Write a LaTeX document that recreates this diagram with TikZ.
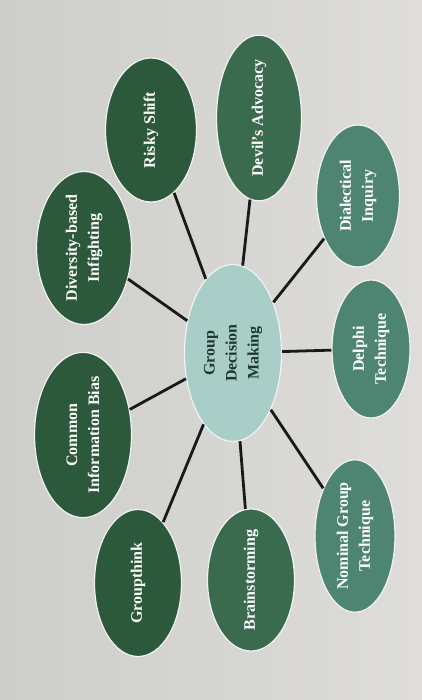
\documentclass[tikz,border=0pt]{standalone}
\usepackage{fontspec}
\setmainfont{Liberation Serif}
\usetikzlibrary{shapes.geometric}
\definecolor{paper}{HTML}{DEDDDA}
\definecolor{paperdark}{HTML}{CDCDC9}
\definecolor{darkleaf}{HTML}{2C593C}
\definecolor{midleaf}{HTML}{3B6B4F}
\definecolor{tealleaf}{HTML}{4E8572}
\definecolor{hubfill}{HTML}{A9CEC7}
\definecolor{hubtext}{HTML}{1E3833}
\tikzset{
	bubble/.style={ellipse, draw=white!90!gray, line width=1.2pt, text=white, align=center,
		font=\bfseries\fontsize{16}{22}\selectfont, rotate=90, inner sep=0pt},
	spoke/.style={line width=2.8pt, black!90},
}
\begin{document}
\begin{tikzpicture}[x=1pt,y=-1pt]
	\shade [left color=paperdark, right color=paper] (0,0) rectangle (422,700);
	\node [bubble, fill=hubfill, text=hubtext, minimum width=177pt, minimum height=97pt] (gdm) at (233,353) {Group\\Decision\\Making};
	\node [bubble, fill=darkleaf, minimum width=153pt, minimum height=95pt] (dbi) at (84,248) {Diversity-based\\Infighting};
	\node [bubble, fill=darkleaf, minimum width=144pt, minimum height=91pt] (rs) at (151,130) {Risky Shift};
	\node [bubble, fill=midleaf, minimum width=137pt, minimum height=85pt] (da) at (259,118) {Devil's Advocacy};
	\node [bubble, fill=tealleaf, minimum width=142pt, minimum height=83pt] (di) at (358,196) {Dialectical\\Inquiry};
	\node [bubble, fill=tealleaf, minimum width=138pt, minimum height=78pt] (dt) at (371,349) {Delphi\\Technique};
	\node [bubble, fill=darkleaf, minimum width=150pt, minimum height=97pt] (cib) at (83,435) {Common\\Information Bias};
	\node [bubble, fill=darkleaf, minimum width=147pt, minimum height=87pt] (gt) at (138,583) {Groupthink};
	\node [bubble, fill=midleaf, minimum width=140pt, minimum height=87pt] (bs) at (251,580) {Brainstorming};
	\node [bubble, fill=tealleaf, minimum width=143pt, minimum height=80pt] (ngt) at (355,536) {Nominal Group\\Technique};
	\foreach \n in {dbi,rs,da,di,dt,cib,gt,bs,ngt}
		\draw [spoke] (gdm) -- (\n);
\end{tikzpicture}
\end{document}
